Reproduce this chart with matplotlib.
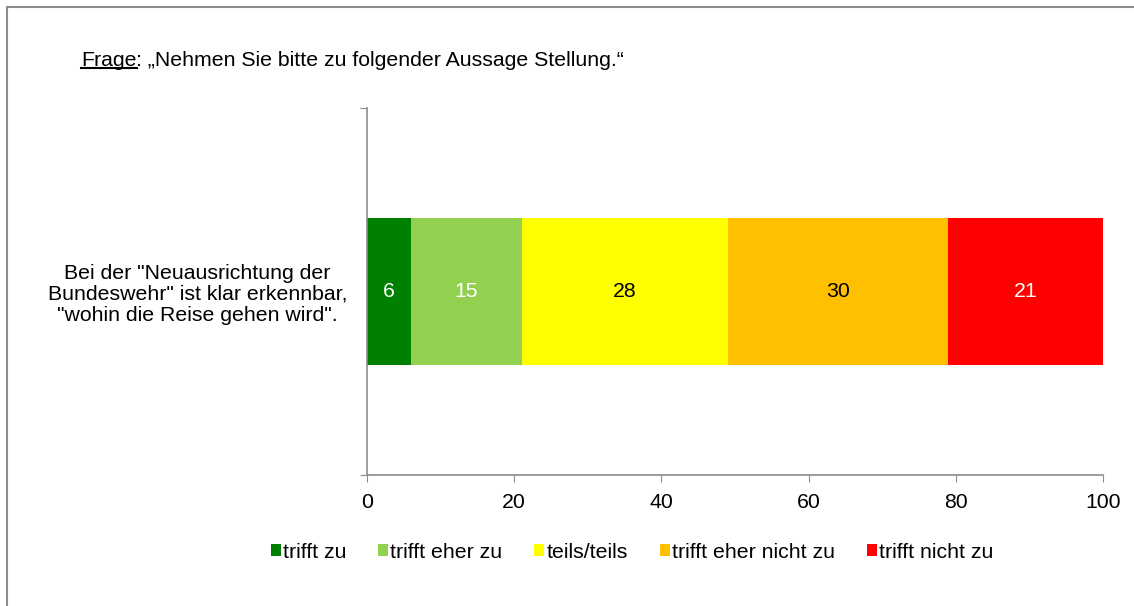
import matplotlib
matplotlib.use("Agg")
import matplotlib.pyplot as plt
from matplotlib.patches import Rectangle
from matplotlib.lines import Line2D

plt.rcParams['font.family'] = ['Liberation Sans', 'DejaVu Sans']

category = 'Bei der "Neuausrichtung der\nBundeswehr" ist klar erkennbar,\n"wohin die Reise gehen wird".'
series = ["trifft zu", "trifft eher zu", "teils/teils", "trifft eher nicht zu", "trifft nicht zu"]
values = [6, 15, 28, 30, 21]
colors = ["#008000", "#92D050", "#FFFF00", "#FFC000", "#FF0000"]
label_colors = ["white", "white", "black", "black", "white"]
xticks = [0, 20, 40, 60, 80, 100]

FS = 15.3
W, H = 1134, 606
fig = plt.figure(figsize=(W / 100, H / 100), dpi=100)

# outer frame
fig.patches.append(Rectangle((7 / W, -0.1), 1.2, 1 - 7 / H + 0.1, transform=fig.transFigure,
                             fill=False, edgecolor="#8c8c8c", linewidth=1.5, zorder=0))

ax = fig.add_axes([367 / W, 1 - 475 / H, (1103 - 367) / W, (475 - 108) / H])

left = 0
for v, c, lc, name in zip(values, colors, label_colors, series):
    ax.barh(0, v, left=left, height=0.4, color=c, label=name)
    ax.text(left + v / 2, 0, str(v), ha="center", va="center", color=lc, fontsize=FS)
    left += v

ax.set_xlim(0, 100)
ax.set_ylim(-0.5, 0.5)
ax.set_xticks(xticks)
ax.set_xticklabels([str(t) for t in xticks], fontsize=FS)
ax.set_yticks([-0.5, 0.5])
ax.set_yticklabels(["", ""])
ax.set_yticks([0], minor=True)
ax.set_yticklabels([category], minor=True, fontsize=FS, multialignment="center", ha="center",
                   linespacing=1.12)
ax.tick_params(axis="y", which="minor", length=0, pad=122)
ax.tick_params(axis="y", which="major", length=5, color="#8c8c8c", direction="out")
ax.tick_params(axis="x", length=5, color="#8c8c8c", direction="out", pad=8)
for s in ["top", "right"]:
    ax.spines[s].set_visible(False)
for s in ["left", "bottom"]:
    ax.spines[s].set_color("#8c8c8c")
    ax.spines[s].set_linewidth(1.2)

# title with underlined "Frage"
t1 = fig.text(81 / W, 1 - 60 / H, "Frage", fontsize=FS, va="center", ha="left")
fig.canvas.draw()
r = fig.canvas.get_renderer()
bb = t1.get_window_extent(r)
fig.text(bb.x1 / W, 1 - 60 / H, ": \u201eNehmen Sie bitte zu folgender Aussage Stellung.\u201c",
         fontsize=FS, va="center", ha="left")
fig.lines.append(Line2D([bb.x0 / W, bb.x1 / W], [(bb.y0 + 2) / H, (bb.y0 + 2) / H],
                        transform=fig.transFigure, color="black", linewidth=1.5))

handles, labels = ax.get_legend_handles_labels()
fig.legend(handles, labels, loc="center", bbox_to_anchor=(632 / W, 1 - 552 / H), ncol=5,
           frameon=False, fontsize=FS, handlelength=0.47, handleheight=0.56,
           handletextpad=0.1, columnspacing=1.5)

fig.savefig("out.png", dpi=100)
